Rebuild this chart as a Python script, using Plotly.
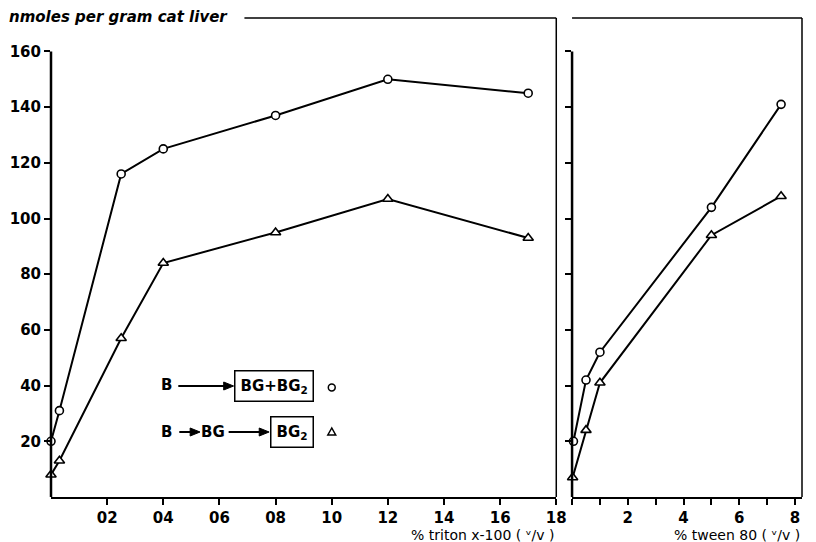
import plotly.graph_objects as go

# ---- data ----
triton_x = [0, 0.03, 0.25, 0.4, 0.8, 1.2, 1.7]
triton_bg_bg2 = [20, 31, 116, 125, 137, 150, 145]
triton_bg2 = [8, 13, 57, 84, 95, 107, 93]

tween_x_c = [0.05, 0.5, 1.0, 5.0, 7.5]
tween_bg_bg2 = [20, 42, 52, 104, 141]
tween_x_t = [0.02, 0.5, 1.0, 5.0, 7.5]
tween_bg2 = [7, 24, 41, 94, 108]

y_ticks = [20, 40, 60, 80, 100, 120, 140, 160]
triton_ticks = [0.2, 0.4, 0.6, 0.8, 1.0, 1.2, 1.4, 1.6, 1.8]
triton_ticklabels = ["02", "04", "06", "08", "10", "12", "14", "16", "18"]
tween_ticks = [2, 4, 6, 8]
tween_ticklabels = ["2", "4", "6", "8"]

# ---- layout geometry ----
W, H = 816, 542
ML, MR, MT, MB = 51, 4, 18, 45
PW, PH = W - ML - MR, H - MT - MB
YR = [0, 172]
XR1 = [0, 1.8]
XR2 = [0, 8.25]
D1 = [0, (563 - ML) / PW]
D2 = [(579 - ML) / PW, 1]

def px(x):
    return (x - ML) / PW

def py(y):
    return (H - MB - y) / PH

def yp(v):
    return (v - YR[0]) / (YR[1] - YR[0])

def x1p(v):
    return D1[0] + (v - XR1[0]) / (XR1[1] - XR1[0]) * (D1[1] - D1[0])

def x2p(v):
    return D2[0] + (v - XR2[0]) / (XR2[1] - XR2[0]) * (D2[1] - D2[0])

LINE = dict(color="black", width=2)
CIRC = dict(symbol="circle", size=8, color="white", line=dict(color="black", width=1.6))
TRI = dict(symbol="triangle-up", size=9, color="white", line=dict(color="black", width=1.6))

fig = go.Figure()
fig.add_trace(go.Scatter(x=triton_x, y=triton_bg_bg2, mode="lines+markers", line=LINE, marker=CIRC,
                         xaxis="x", yaxis="y", cliponaxis=False))
fig.add_trace(go.Scatter(x=triton_x, y=triton_bg2, mode="lines+markers", line=LINE, marker=TRI,
                         xaxis="x", yaxis="y", cliponaxis=False))
fig.add_trace(go.Scatter(x=tween_x_c, y=tween_bg_bg2, mode="lines+markers", line=LINE, marker=CIRC,
                         xaxis="x2", yaxis="y2", cliponaxis=False))
fig.add_trace(go.Scatter(x=tween_x_t, y=tween_bg2, mode="lines+markers", line=LINE, marker=TRI,
                         xaxis="x2", yaxis="y2", cliponaxis=False))

FAM = "DejaVu Sans"
TF = dict(family=FAM, size=15, color="black", weight="bold")
common_x = dict(showgrid=False, zeroline=False, showline=True, linecolor="black", linewidth=2,
                ticks="outside", ticklen=6, tickwidth=2, tickcolor="black", tickfont=TF)
common_y = dict(showgrid=False, zeroline=False, showline=False, range=YR, tickvals=y_ticks,
                ticks="outside", ticklen=6, tickwidth=2, tickcolor="black", tickfont=TF)

fig.update_layout(
    width=W, height=H, margin=dict(l=ML, r=MR, t=MT, b=MB),
    paper_bgcolor="white", plot_bgcolor="white", showlegend=False,
    xaxis=dict(domain=D1, range=XR1, tickvals=triton_ticks, ticktext=triton_ticklabels,
               anchor="y", **common_x),
    yaxis=dict(domain=[0, 1], anchor="x", ticktext=[str(v) for v in y_ticks], **common_y),
    xaxis2=dict(domain=D2, range=XR2, tickvals=tween_ticks, ticktext=tween_ticklabels,
                anchor="y2",
                minor=dict(tick0=0, dtick=1, ticks="outside", ticklen=6, tickwidth=2,
                           tickcolor="black", showgrid=False),
                **common_x),
    yaxis2=dict(domain=[0, 1], anchor="x2", showticklabels=False, **common_y),
)

shapes = []
def seg(x0, y0, x1, y1, w=2):
    shapes.append(dict(type="line", xref="paper", yref="paper", x0=x0, y0=y0, x1=x1, y1=y1,
                       line=dict(color="black", width=w)))

# left panel: y axis line up to 160, right edge, top line after title
seg(x1p(0), yp(0), x1p(0), yp(160), 2.5)
seg(x1p(XR1[1]), yp(0), x1p(XR1[1]), 1, 1.5)
seg(px(247), 1, x1p(XR1[1]), 1, 1.5)
# right panel
seg(x2p(0), yp(0), x2p(0), yp(160), 2.5)
seg(x2p(0), 1, x2p(XR2[1]), 1, 1.5)
seg(x2p(XR2[1]), yp(0), x2p(XR2[1]), 1, 1.5)

def arrow(x0, x1, y):
    seg(px(x0), py(y), px(x1 - 8), py(y), 2)
    path = "M {a},{b} L {c},{d} L {e},{f} Z".format(
        a=px(x1), b=py(y), c=px(x1 - 10), d=py(y - 4), e=px(x1 - 10), f=py(y + 4))
    shapes.append(dict(type="path", xref="paper", yref="paper", path=path,
                       fillcolor="black", line=dict(color="black", width=1)))

arrow(180, 236, 386)
arrow(181, 202, 432)
arrow(231, 272, 432)

# key symbols
shapes.append(dict(type="circle", xref="paper", yref="paper",
                   x0=px(332), x1=px(339), y0=py(384), y1=py(391),
                   line=dict(color="black", width=1.5)))
shapes.append(dict(type="path", xref="paper", yref="paper",
                   path="M {a},{b} L {c},{d} L {e},{f} Z".format(
                       a=px(335.5), b=py(428), c=px(331.5), d=py(435), e=px(339.5), f=py(435)),
                   line=dict(color="black", width=1.5)))
fig.update_layout(shapes=shapes)

ann = []
def text(x, y, s, size=14, xanchor="center", bold=True, border=False, italic=False):
    d = dict(xref="paper", yref="paper", x=px(x), y=py(y), text=s, showarrow=False,
             xanchor=xanchor, yanchor="middle",
             font=dict(family=FAM, size=size, color="black",
                       weight="bold" if bold else "normal",
                       style="italic" if italic else "normal"))
    if border:
        d.update(bordercolor="black", borderwidth=1.5, borderpad=5)
    ann.append(d)

text(6, 17, "nmoles per gram cat liver", size=15, xanchor="left", italic=True)
text(563, 535, "% triton x-100 ( ᵛ/v )", size=14, xanchor="right", bold=False)
text(812, 535, "% tween 80 ( ᵛ/v )", size=14, xanchor="right", bold=False)

# key
text(168, 385, "B", 15)
text(318, 386, "BG+BG<sub>2</sub>", 15, xanchor="right", border=True)
text(168, 432, "B", 15)
text(215, 432, "BG", 15)
text(318, 432, "BG<sub>2</sub>", 15, xanchor="right", border=True)
fig.update_layout(annotations=ann)

fig.write_html("out.html")
